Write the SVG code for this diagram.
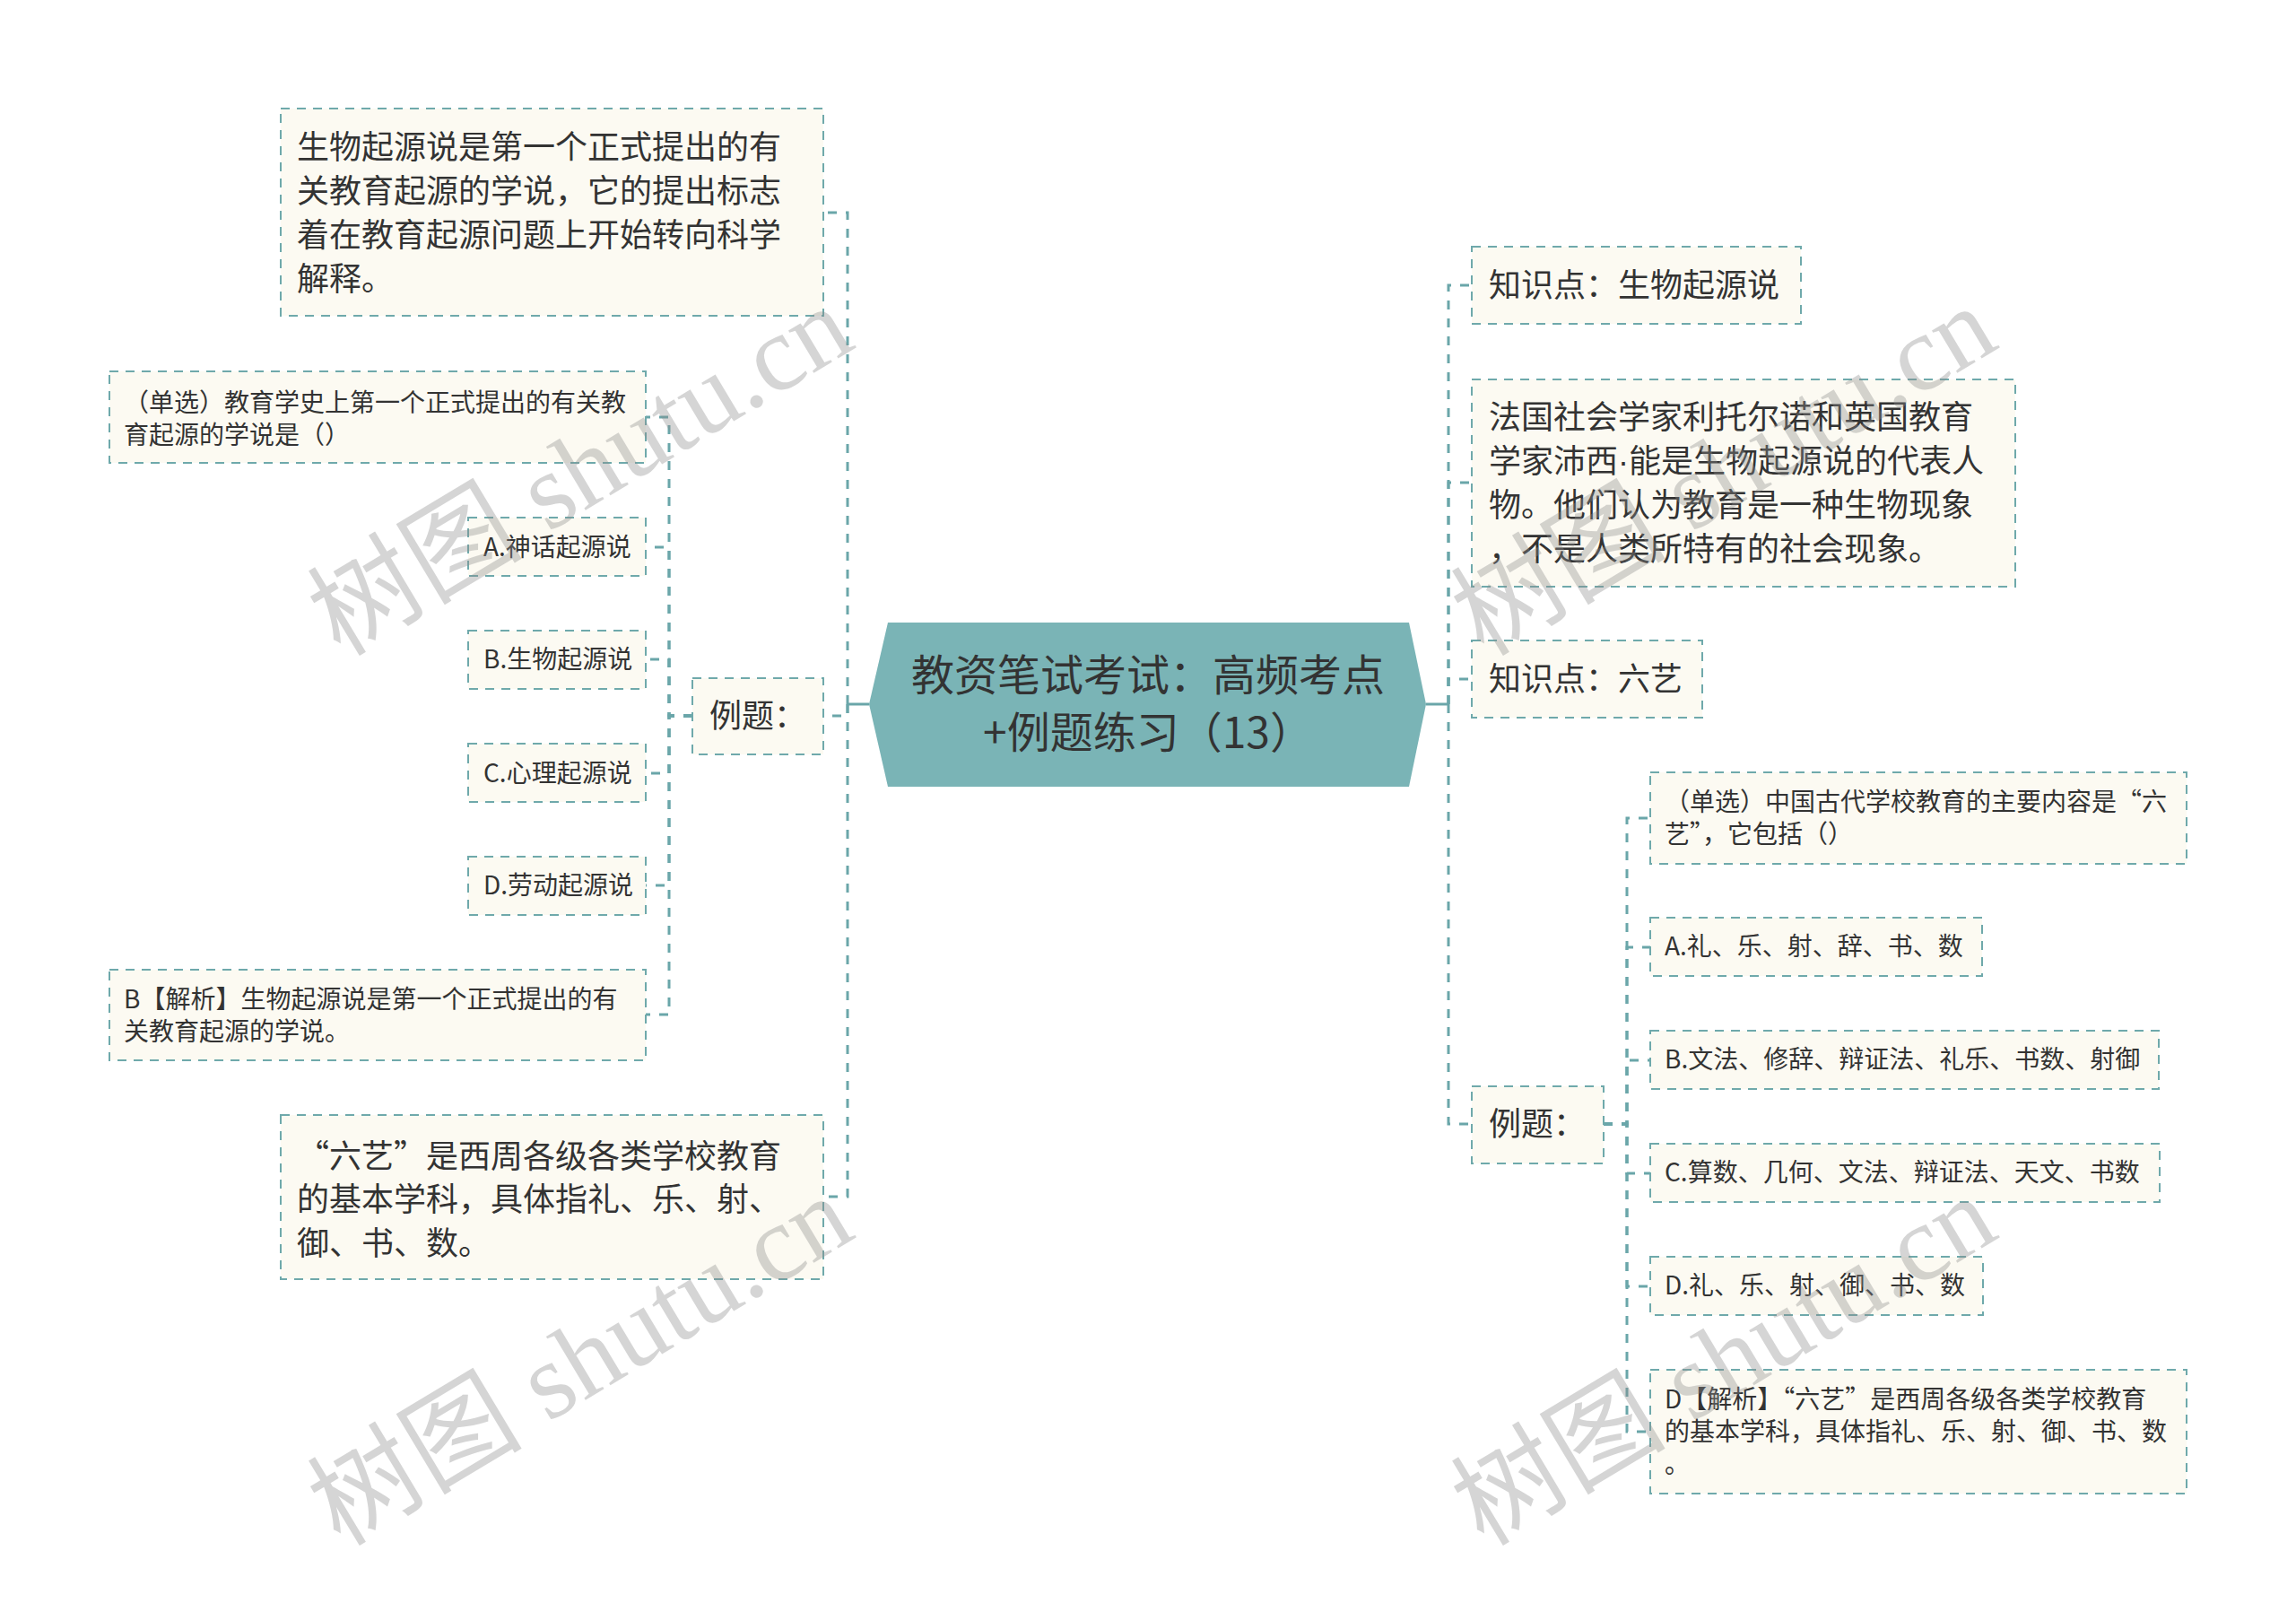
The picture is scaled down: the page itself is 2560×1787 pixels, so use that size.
<svg xmlns="http://www.w3.org/2000/svg" width="2560" height="1787" viewBox="0 0 2560 1787">
<style>
.box{fill:#fcfaf2;stroke:#6fa9ab;stroke-width:2;stroke-dasharray:10 8;}
.t{font-family:"Noto Sans CJK SC","Microsoft YaHei",sans-serif;fill:#333333;}
.f36{font-size:36px;}
.f28{font-size:28px;}
.f48{font-size:48px;}
.conn{fill:none;stroke:#6aa6a9;stroke-width:3;stroke-dasharray:10 10;}
.stub{fill:none;stroke:#6aa6a9;stroke-width:3;}
.wm{font-family:"Liberation Serif","Noto Sans CJK SC",serif;font-size:120px;fill:#8c8c8c;opacity:0.36;}
.lat{font-family:"Liberation Sans",sans-serif;}
</style>
<rect x="0" y="0" width="2560" height="1787" fill="#ffffff"/>

<g id="connectors">
  <path class="stub" d="M969,785 H945"/>
  <path class="conn" d="M945,785 V237 H918"/>
  <path class="conn" d="M945,785 V798 H918"/>
  <path class="conn" d="M945,785 V1334 H918"/>
  <path class="conn" d="M772,798 H746 V465 H720"/>
  <path class="conn" d="M772,798 H746 V610 H720"/>
  <path class="conn" d="M772,798 H746 V735 H720"/>
  <path class="conn" d="M772,798 H746 V862 H720"/>
  <path class="conn" d="M772,798 H746 V987 H720"/>
  <path class="conn" d="M772,798 H746 V1131 H720"/>
  <path class="stub" d="M1590,785 H1615"/>
  <path class="conn" d="M1615,785 V318 H1641"/>
  <path class="conn" d="M1615,785 V538 H1641"/>
  <path class="conn" d="M1615,785 V757 H1641"/>
  <path class="conn" d="M1615,785 V1253 H1641"/>
  <path class="conn" d="M1788,1253 H1814 V912 H1840"/>
  <path class="conn" d="M1788,1253 H1814 V1056 H1840"/>
  <path class="conn" d="M1788,1253 H1814 V1182 H1840"/>
  <path class="conn" d="M1788,1253 H1814 V1308 H1840"/>
  <path class="conn" d="M1788,1253 H1814 V1434 H1840"/>
  <path class="conn" d="M1788,1253 H1814 V1596 H1840"/>
</g>

<g id="root">
  <polygon points="990,694 1571,694 1590,785 1571,877 990,877 969,785" fill="#7ab4b6"/>
  <text class="t f48" x="1280" y="770" text-anchor="middle">教资笔试考试：高频考点</text>
  <text class="t f48" x="1280" y="834" text-anchor="middle">+例题练习（13）</text>
</g>

<g id="node-l1">
  <rect class="box" x="313" y="121" width="605" height="231"/>
  <text class="t f36" x="331" y="177">生物起源说是第一个正式提出的有</text>
  <text class="t f36" x="331" y="226">关教育起源的学说，它的提出标志</text>
  <text class="t f36" x="331" y="275">着在教育起源问题上开始转向科学</text>
  <text class="t f36" x="331" y="324">解释。</text>
</g>

<g id="node-l-example">
  <rect class="box" x="772" y="756" width="146" height="85"/>
  <text class="t f36" x="791" y="811">例题：</text>
</g>

<g id="node-l-q">
  <rect class="box" x="122" y="414" width="598" height="102"/>
  <text class="t f28" x="138" y="459">（单选）教育学史上第一个正式提出的有关教</text>
  <text class="t f28" x="138" y="495">育起源的学说是（）</text>
</g>

<g id="node-l-a">
  <rect class="box" x="522" y="577" width="198" height="65"/>
  <text class="t f28" x="539" y="620">A.神话起源说</text>
</g>
<g id="node-l-b">
  <rect class="box" x="522" y="703" width="198" height="65"/>
  <text class="t f28" x="539" y="745">B.生物起源说</text>
</g>
<g id="node-l-c">
  <rect class="box" x="522" y="829" width="198" height="65"/>
  <text class="t f28" x="539" y="872">C.心理起源说</text>
</g>
<g id="node-l-d">
  <rect class="box" x="522" y="955" width="198" height="65"/>
  <text class="t f28" x="539" y="997">D.劳动起源说</text>
</g>

<g id="node-l-ans">
  <rect class="box" x="122" y="1081" width="598" height="101"/>
  <text class="t f28" x="138" y="1124">B【解析】生物起源说是第一个正式提出的有</text>
  <text class="t f28" x="138" y="1160">关教育起源的学说。</text>
</g>

<g id="node-l-liuyi">
  <rect class="box" x="313" y="1243" width="605" height="183"/>
  <text class="t f36" x="331" y="1302">“六艺”是西周各级各类学校教育</text>
  <text class="t f36" x="331" y="1350">的基本学科，具体指礼、乐、射、</text>
  <text class="t f36" x="331" y="1399">御、书、数。</text>
</g>

<g id="node-r1">
  <rect class="box" x="1641" y="275" width="367" height="86"/>
  <text class="t f36" x="1660" y="331">知识点：生物起源说</text>
</g>

<g id="node-r2">
  <rect class="box" x="1641" y="423" width="606" height="231"/>
  <text class="t f36" x="1660" y="478">法国社会学家利托尔诺和英国教育</text>
  <text class="t f36" x="1660" y="527">学家沛西<tspan class="lat">·</tspan>能是生物起源说的代表人</text>
  <text class="t f36" x="1660" y="576">物。他们认为教育是一种生物现象</text>
  <text class="t f36" x="1660" y="625">，不是人类所特有的社会现象。</text>
</g>

<g id="node-r3">
  <rect class="box" x="1641" y="714" width="257" height="86"/>
  <text class="t f36" x="1660" y="770">知识点：六艺</text>
</g>

<g id="node-r-example">
  <rect class="box" x="1641" y="1211" width="147" height="86"/>
  <text class="t f36" x="1660" y="1266">例题：</text>
</g>

<g id="node-r-q">
  <rect class="box" x="1840" y="861" width="598" height="102"/>
  <text class="t f28" x="1856" y="904">（单选）中国古代学校教育的主要内容是“六</text>
  <text class="t f28" x="1856" y="940">艺”，它包括（）</text>
</g>
<g id="node-r-a">
  <rect class="box" x="1840" y="1023" width="370" height="65"/>
  <text class="t f28" x="1856" y="1065">A.礼、乐、射、辞、书、数</text>
</g>
<g id="node-r-b">
  <rect class="box" x="1840" y="1149" width="567" height="65"/>
  <text class="t f28" x="1856" y="1191">B.文法、修辞、辩证法、礼乐、书数、射御</text>
</g>
<g id="node-r-c">
  <rect class="box" x="1840" y="1275" width="568" height="65"/>
  <text class="t f28" x="1856" y="1317">C.算数、几何、文法、辩证法、天文、书数</text>
</g>
<g id="node-r-d">
  <rect class="box" x="1840" y="1401" width="371" height="65"/>
  <text class="t f28" x="1856" y="1443">D.礼、乐、射、御、书、数</text>
</g>
<g id="node-r-ans">
  <rect class="box" x="1840" y="1527" width="598" height="138"/>
  <text class="t f28" x="1856" y="1570">D【解析】“六艺”是西周各级各类学校教育</text>
  <text class="t f28" x="1856" y="1606">的基本学科，具体指礼、乐、射、御、书、数</text>
  <text class="t f28" x="1856" y="1642">。</text>
</g>

<g id="watermark">
  <text class="wm" x="647" y="525" text-anchor="middle" dominant-baseline="central" transform="rotate(-31 647 525)">树图 shutu.cn</text>
  <text class="wm" x="647" y="1517" text-anchor="middle" dominant-baseline="central" transform="rotate(-31 647 1517)">树图 shutu.cn</text>
  <text class="wm" x="1922" y="525" text-anchor="middle" dominant-baseline="central" transform="rotate(-31 1922 525)">树图 shutu.cn</text>
  <text class="wm" x="1922" y="1517" text-anchor="middle" dominant-baseline="central" transform="rotate(-31 1922 1517)">树图 shutu.cn</text>
</g>
</svg>
